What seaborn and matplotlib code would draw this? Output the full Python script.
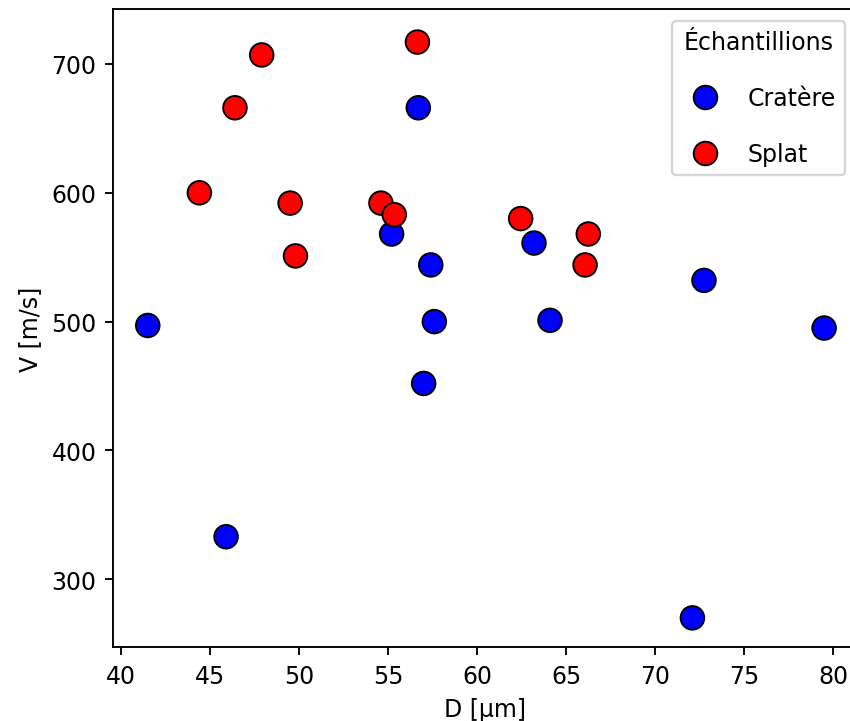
import pandas as pd
import matplotlib
matplotlib.use('Agg')
from matplotlib import pyplot as plt
import seaborn as sns

# Diamètre D [µm] et vitesse V [m/s] par type d'échantillon
d_cratere = [41.5, 45.9, 55.2, 56.7, 57.0, 57.4, 57.6, 63.2, 64.1, 72.1, 72.75, 79.5]
v_cratere = [497, 333, 568, 666, 452, 544, 500, 561, 501, 270, 532, 495]
d_splat = [44.4, 46.4, 47.9, 49.5, 49.8, 54.6, 55.35, 56.65, 62.45, 66.07, 66.25]
v_splat = [600, 666, 707, 592, 551, 592, 583, 717, 580, 544, 568]

df = pd.DataFrame({
    'D': d_cratere + d_splat,
    'V': v_cratere + v_splat,
    'Échantillions': ['Cratère'] * len(d_cratere) + ['Splat'] * len(d_splat),
})

# small figure at high dpi -> 850x722 px
fig = plt.figure(figsize=(5.0, 4.247), dpi=170)
# the right spine falls just outside the picture, as in the reference
ax = fig.add_axes([0.133, 0.1025, 0.8753, 0.8837])

sns.scatterplot(data=df, x='D', y='V', hue='Échantillions',
                palette={'Cratère': 'blue', 'Splat': 'red'},
                s=100, edgecolor='black', linewidth=0.8, ax=ax)

ax.set_xlim(39.55, 81.35)
ax.set_ylim(247.4, 742.7)
ax.set_xlabel('D [µm]')
ax.set_ylabel('V [m/s]')
ax.legend(title='Échantillions', loc='upper right', labelspacing=1.35)

fig.savefig('out.png')
